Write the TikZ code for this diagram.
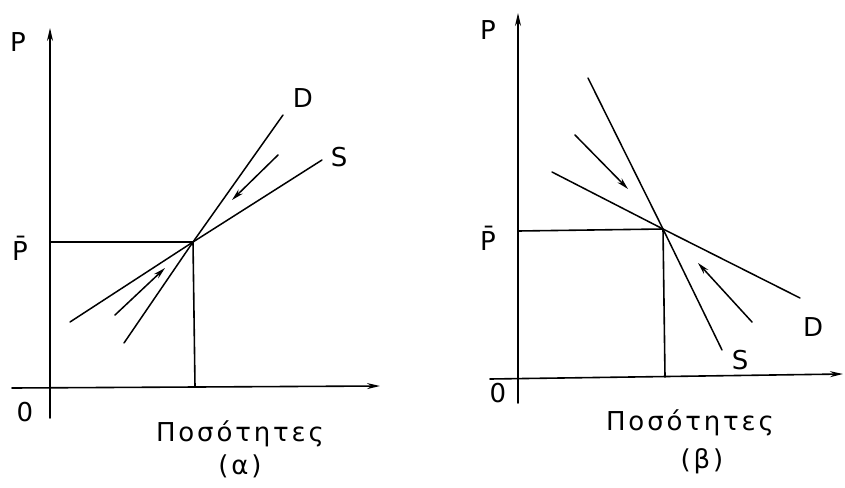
\documentclass[tikz,border=0pt]{standalone}
\usepackage{fontspec}
\usetikzlibrary{arrows.meta}
\setmainfont{DejaVu Sans}[LetterSpace=11]
\begin{document}
\begin{tikzpicture}[x=1pt, y=-1pt, line join=round, line cap=round,
  >={Stealth[length=13pt, width=6pt]},
  font=\fontsize{26}{30}\selectfont,
  axis/.style={line width=1.6pt},
  curve/.style={line width=1.5pt},
  move/.style={-{Stealth[length=12pt, width=6pt]}, line width=1.5pt}]
\useasboundingbox (0,0) rectangle (845,487);
% panel (a)
\coordinate (Ea) at (193,242);
\draw[axis,->] (12,388) -- (380,386);
\draw[axis,->] (50,418) -- (50,28);
\draw[axis] (50,242) -- (Ea) -- (195,387);
\draw[curve] (124,343) -- (Ea) -- (283,115);
\draw[curve] (70,322) -- (Ea) -- (322,160);
\draw[move] (278,155) -- (232,200);
\draw[move] (115,315) -- (165,268);
\node (Pa) at (18,42) {P};
\node (Pba) at (20,248) {\=P};
\node (Oa) at (25,412) {0};
\node (Da) at (303,98) {D};
\node (Sa) at (339,157) {S};
\node (Qa) at (240,434) {Ποσότητες};
\node (la) at (240,466) {(α)};
% panel (b)
\coordinate (Eb) at (663,229);
\draw[axis,->] (490,379) -- (843,374);
\draw[axis,->] (518,403) -- (518,13);
\draw[axis] (518,231) -- (Eb) -- (665,377);
\draw[curve] (588,78) -- (Eb) -- (722,350);
\draw[curve] (552,172) -- (Eb) -- (800,298);
\draw[move] (575,135) -- (628,189);
\draw[move] (752,322) -- (698,263);
\node (Pb) at (488,30) {P};
\node (Pbb) at (488,238) {\=P};
\node (Ob) at (498,393) {0};
\node (Db) at (813,327) {D};
\node (Sb) at (740,360) {S};
\node (Qb) at (690,423) {Ποσότητες};
\node (lb) at (702,461) {(β)};
\end{tikzpicture}
\end{document}
